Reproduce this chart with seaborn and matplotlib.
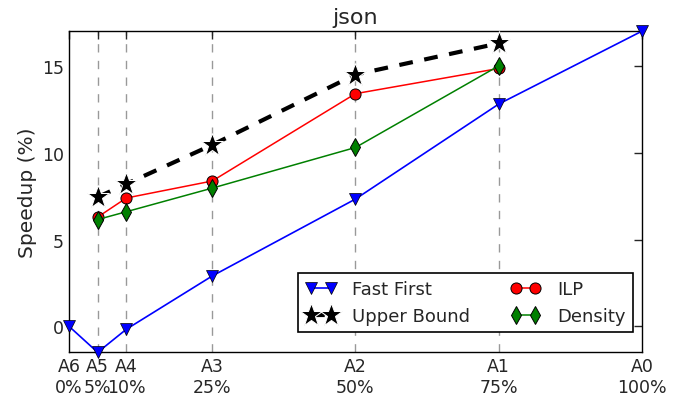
import matplotlib
matplotlib.use("Agg")
import matplotlib.pyplot as plt
import seaborn as sns

sns.set_style("white")
plt.rcParams['font.family'] = ['DejaVu Sans']

positions = [0, 5, 10, 25, 50, 75, 100]
tick_labels = ["A6\n0%", "A5\n5%", "A4\n10%", "A3\n25%", "A2\n50%", "A1\n75%", "A0\n100%"]

fast_x = [0, 5, 10, 25, 50, 75, 100]
fast_y = [0.0, -1.5, -0.17, 2.9, 7.33, 12.8, 17.0]
sub_x = [5, 10, 25, 50, 75]
ilp_y = [6.29, 7.39, 8.37, 13.4, 14.85]
density_y = [6.15, 6.6, 7.96, 10.3, 15.0]
upper_y = [7.44, 8.2, 10.45, 14.5, 16.3]

fig, ax = plt.subplots(figsize=(6.8, 4.02), dpi=100)
fig.subplots_adjust(left=0.1015, right=0.944, top=0.92, bottom=0.121)

for p in [5, 10, 25, 50, 75]:
    ax.axvline(p, color="#999999", linestyle=(0, (6, 6)), linewidth=1, zorder=0)

sns.lineplot(x=fast_x, y=fast_y, ax=ax, color="blue", marker="v", markersize=9,
             markeredgecolor="black", markeredgewidth=0.5, linewidth=1.2,
             label="Fast First", clip_on=False, zorder=5)
sns.lineplot(x=sub_x, y=upper_y, ax=ax, color="black", marker="*", markersize=17,
             linestyle=(0, (3.3, 2.8)), linewidth=3, label="Upper Bound", zorder=4)
sns.lineplot(x=sub_x, y=ilp_y, ax=ax, color="red", marker="o", markersize=8,
             markeredgecolor="black", markeredgewidth=0.7, linewidth=1.1,
             label="ILP", zorder=4)
sns.lineplot(x=sub_x, y=density_y, ax=ax, color="green", marker="d", markersize=9,
             markeredgecolor="black", markeredgewidth=0.7, linewidth=1.1,
             label="Density", zorder=4)

ax.set_xlim(0, 100)
ax.set_ylim(-1.5, 17)
ax.set_xticks(positions)
ax.set_xticklabels(tick_labels, fontsize=12.5)
ax.set_yticks([0, 5, 10, 15])
ax.tick_params(axis="y", labelsize=12.5)
ax.tick_params(direction="in", top=True, right=True, length=6, width=1)
ax.set_ylabel("Speedup (%)", fontsize=14.5)
ax.set_title("json", fontsize=16)
for s in ax.spines.values():
    s.set_color("black")
    s.set_linewidth(1.0)

leg = ax.legend(loc="lower right", ncol=2, numpoints=2, fancybox=False,
                framealpha=1, edgecolor="black", fontsize=13,
                bbox_to_anchor=(0.984, 0.063), borderaxespad=0, borderpad=0.4,
                columnspacing=2.2, handlelength=1.7, handletextpad=0.9)
leg.get_frame().set_linewidth(1.2)

fig.savefig("out.png", dpi=100)
